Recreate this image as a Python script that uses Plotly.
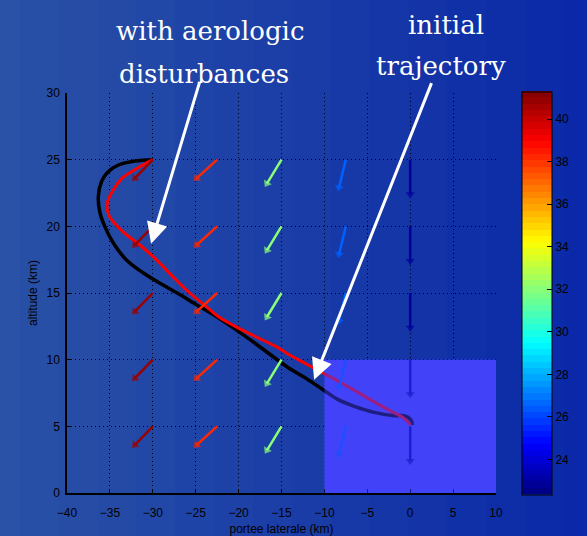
import plotly.graph_objects as go

# ---------------- data ----------------
# initial trajectory (black)
init_x = [-30.0, -32.1, -34.0, -35.2, -35.95, -36.35, -36.15, -35.6, -34.6, -33.1, -31.1, -28.8, -26.9,
          -25.0, -23.0, -19.2, -15.4, -14.2, -11.9, -10.15, -8.4, -6.5, -4.2, -1.85, -0.7, 0.06, 0.26]
init_y = [25.0, 24.9, 24.6, 24.1, 23.4, 22.25, 21.0, 20.0, 18.75, 17.5, 16.5, 15.6, 14.9,
          14.15, 13.4, 11.75, 9.95, 9.4, 8.5, 7.75, 7.0, 6.5, 6.05, 5.8, 5.8, 5.5, 5.1]

# trajectory with aerologic disturbances (red)
dist_x = [-30.0, -32.1, -33.6, -34.6, -35.3, -35.1, -33.5, -31.5, -29.6, -27.7, -25.7, -23.8,
          -22.3, -19.2, -15.4, -14.2, -11.9, -10.15, -8.0, -5.3, -2.6, -0.7, 0.06]
dist_y = [25.0, 24.25, 23.6, 22.75, 21.75, 20.8, 19.6, 18.6, 17.5, 16.25, 15.0, 14.0,
          13.2, 12.1, 10.9, 10.4, 9.6, 9.0, 8.25, 7.25, 6.25, 5.6, 5.1]

# wind field (quiver): columns, rows, vector components and speed per column
quiver_x = [-30.0, -22.5, -15.0, -7.5, 0.0]
quiver_y = [25.0, 20.0, 15.0, 10.0, 5.0]
quiver_u = [-2.1, -2.4, -1.7, -0.8, 0.0]
quiver_v = [-1.4, -1.4, -1.8, -2.1, -2.6]
quiver_speed = [40.8, 38.2, 32.0, 26.5, 22.9]

c_min, c_max = 22.35, 41.3
cbar_ticks = [24, 26, 28, 30, 32, 34, 36, 38, 40]

zone_x = [-10, 10]
zone_y = [0, 10]

x_ticks = [-40, -35, -30, -25, -20, -15, -10, -5, 0, 5, 10]
y_ticks = [0, 5, 10, 15, 20, 25, 30]

label_left = ["with aerologic", "disturbances"]
label_right = ["initial", "trajectory"]
tip_left = (-30.2, 18.7)
tip_right = (-11.2, 8.5)


# ---------------- helpers ----------------
def clip(v):
    return max(0.0, min(1.0, v))


def jet(t):
    r = clip(1.5 - abs(4 * t - 3))
    g = clip(1.5 - abs(4 * t - 2))
    b = clip(1.5 - abs(4 * t - 1))
    return "rgb(%d,%d,%d)" % (round(r * 255), round(g * 255), round(b * 255))


n_bands = 64
jet_scale = []
for i in range(n_bands):
    c = jet((i + 0.5) / n_bands)
    jet_scale.append([i / n_bands, c])
    jet_scale.append([(i + 1) / n_bands, c])


def speed_color(s):
    return jet((s - c_min) / (c_max - c_min))


fig = go.Figure()

# trajectories
fig.add_trace(go.Scatter(x=init_x, y=init_y, mode="lines",
                         line=dict(color="black", width=3.5, shape="spline", smoothing=1.0),
                         showlegend=False, hoverinfo="skip"))
fig.add_trace(go.Scatter(x=dist_x, y=dist_y, mode="lines",
                         line=dict(color="rgb(255,0,0)", width=3, shape="spline", smoothing=1.0),
                         showlegend=False, hoverinfo="skip"))

# quiver arrows (one trace per column, coloured by speed)
for cx, u, v, s in zip(quiver_x, quiver_u, quiver_v, quiver_speed):
    xs, ys, sz = [], [], []
    for cy in quiver_y:
        xs += [cx, cx + u, None]
        ys += [cy, cy + v, None]
        sz += [0, 8, 0]
    col = speed_color(s)
    fig.add_trace(go.Scatter(
        x=xs, y=ys, mode="lines+markers",
        line=dict(color=col, width=2.5),
        marker=dict(symbol="triangle-up", size=sz, color=col, angleref="previous", line=dict(width=0)),
        showlegend=False, hoverinfo="skip"))

# colour bar holder
fig.add_trace(go.Scatter(
    x=[None], y=[None], mode="markers",
    marker=dict(color=[c_min], cmin=c_min, cmax=c_max, colorscale=jet_scale, showscale=True,
                colorbar=dict(x=1.06, xanchor="left", xpad=0, ypad=0, y=0.5, yanchor="middle",
                              len=1.0075, lenmode="fraction", thickness=30, thicknessmode="pixels",
                              outlinecolor="black", outlinewidth=1,
                              tickvals=cbar_ticks, ticks="inside", ticklen=5, tickcolor="black",
                              tickfont=dict(family="Liberation Sans, Arial", size=12, color="black"))),
    showlegend=False, hoverinfo="skip"))

# background gradient strips
shapes = []
n_strips = 16
x_lo, x_hi = -0.2, 1.25
left_c = (42, 82, 166)
right_c = (10, 40, 168)
for i in range(n_strips):
    t = i / (n_strips - 1)
    c = tuple(round(left_c[k] + (right_c[k] - left_c[k]) * t) for k in range(3))
    shapes.append(dict(type="rect", xref="paper", yref="paper",
                       x0=x_lo + (x_hi - x_lo) * i / n_strips,
                       x1=x_lo + (x_hi - x_lo) * (i + 1) / n_strips + 0.01,
                       y0=-0.2, y1=1.3, fillcolor="rgb(%d,%d,%d)" % c,
                       line=dict(width=0), layer="below"))

# highlighted zone: opaque base + translucent overlay on top of curves
shapes.append(dict(type="rect", xref="x", yref="y", x0=zone_x[0], x1=zone_x[1], y0=zone_y[0], y1=zone_y[1],
                   fillcolor="rgb(72,72,240)", line=dict(width=0), layer="between"))
shapes.append(dict(type="rect", xref="x", yref="y", x0=zone_x[0], x1=zone_x[1], y0=zone_y[0], y1=zone_y[1],
                   fillcolor="rgba(60,60,255,0.5)", line=dict(width=0), layer="above"))

serif = dict(family="DejaVu Serif", size=26, color="white")
annotations = [
    dict(xref="paper", yref="paper", x=0.3336, y=1.156, text=label_left[0], showarrow=False,
         font=serif, xanchor="center", yanchor="middle"),
    dict(xref="paper", yref="paper", x=0.320, y=1.047, text=label_left[1], showarrow=False,
         font=serif, xanchor="center", yanchor="middle"),
    dict(xref="paper", yref="paper", x=0.884, y=1.171, text=label_right[0], showarrow=False,
         font=serif, xanchor="center", yanchor="middle"),
    dict(xref="paper", yref="paper", x=0.872, y=1.067, text=label_right[1], showarrow=False,
         font=serif, xanchor="center", yanchor="middle"),
    dict(xref="x", yref="y", x=tip_left[0], y=tip_left[1], ax=49, ay=-163, text="",
         showarrow=True, arrowhead=2, arrowsize=1.4, arrowwidth=3, arrowcolor="white", standoff=0),
    dict(xref="x", yref="y", x=tip_right[0], y=tip_right[1], ax=118, ay=-298, text="",
         showarrow=True, arrowhead=2, arrowsize=1.4, arrowwidth=3, arrowcolor="white", standoff=0),
]

tick_font = dict(family="Liberation Sans, Arial", size=12, color="black")
axis_common = dict(showgrid=True, gridcolor="black", gridwidth=1, griddash="1px,3px",
                   showline=True, linecolor="black", linewidth=1.5, ticks="inside", ticklen=4,
                   tickcolor="black", zeroline=False, tickfont=tick_font, mirror=False,
                   automargin=False)

fig.update_layout(
    width=587, height=536,
    margin=dict(l=67, r=88, t=93, b=43),
    paper_bgcolor="rgb(25,58,166)",
    plot_bgcolor="rgba(0,0,0,0)",
    shapes=shapes,
    annotations=annotations,
    xaxis=dict(range=[-40, 10], tickvals=x_ticks, ticklabelstandoff=8,
               title=dict(text="portee laterale (km)", standoff=8,
                          font=dict(family="Liberation Sans, Arial", size=12, color="black")),
               **axis_common),
    yaxis=dict(range=[0, 30], tickvals=y_ticks, ticklabelstandoff=3,
               title=dict(text="altitude (km)", standoff=6,
                          font=dict(family="Liberation Sans, Arial", size=12, color="black")),
               **axis_common),
)

fig.write_html("out.html", config={"displayModeBar": False},
               post_script="document.body.style.margin='0px';document.body.style.overflow='hidden';")
